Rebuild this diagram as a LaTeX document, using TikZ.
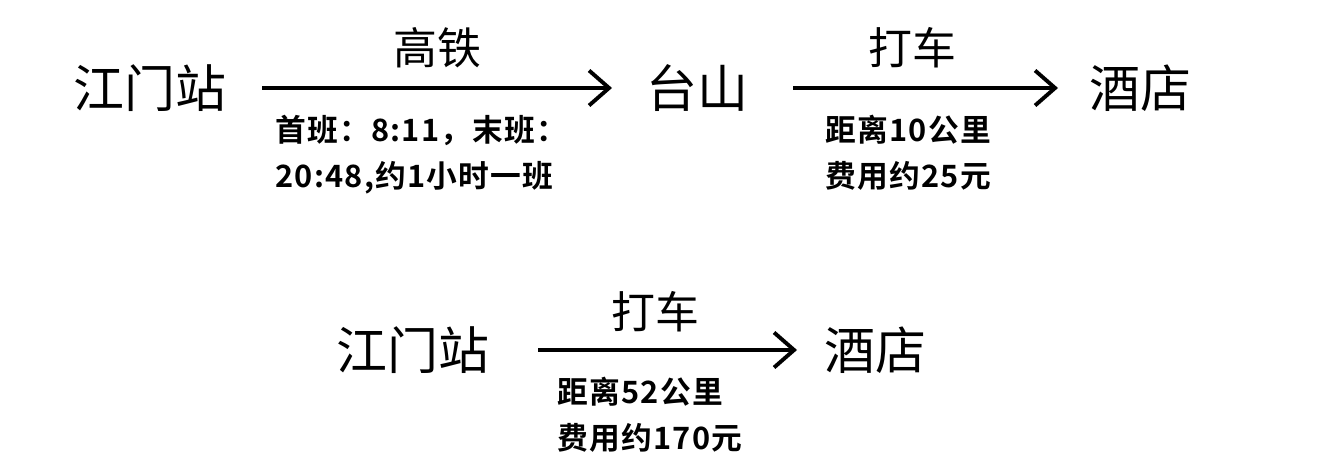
\documentclass[tikz,border=0pt]{standalone}
\usepackage{fontspec}
\newfontfamily\cjk{Noto Sans CJK SC}
\newfontfamily\cjkb[LetterSpace=4]{Noto Sans CJK SC Bold}
\usetikzlibrary{arrows.meta}
\begin{document}
\begin{tikzpicture}[x=0.02cm,y=-0.02cm,
  big/.style={font=\cjk\fontsize{29}{32}\selectfont,inner sep=0pt},
  mid/.style={font=\cjk\fontsize{25}{28}\selectfont,inner sep=0pt},
  lab/.style={font=\cjkb\fontsize{17.5}{26}\selectfont,inner sep=0pt,anchor=north west,align=left},
  arr/.style={line width=2.2pt,-{Straight Barb[length=4mm,width=7mm,line width=2.2pt]}}]
\useasboundingbox (0,0) rectangle (1340,472);
\node[big] (a) at (150,88) {江门站};
\node[big] (b) at (697,88) {台山};
\node[big] (c) at (1140,88) {酒店};
\coordinate (a1) at (262,88); \coordinate (a2) at (612,88);
\coordinate (b1) at (793,88); \coordinate (b2) at (1058,88);
\draw[arr] (a1) -- (a2);
\draw[arr] (b1) -- (b2);
\node[mid] (t1) at (437,48) {高铁};
\node[mid] (t2) at (912,48) {打车};
\node[lab] (l1) at (275,115) {首班：8:11，末班：\\20:48,约1小时一班};
\node[lab] (l2) at (825,115) {距离10公里\\费用约25元};
\node[big] (d) at (413,350) {江门站};
\node[big] (e) at (875,350) {酒店};
\coordinate (d1) at (538,350); \coordinate (d2) at (797,350);
\draw[arr] (d1) -- (d2);
\node[mid] (t3) at (655,312) {打车};
\node[lab] (l3) at (557,377) {距离52公里\\费用约170元};
\end{tikzpicture}
\end{document}
